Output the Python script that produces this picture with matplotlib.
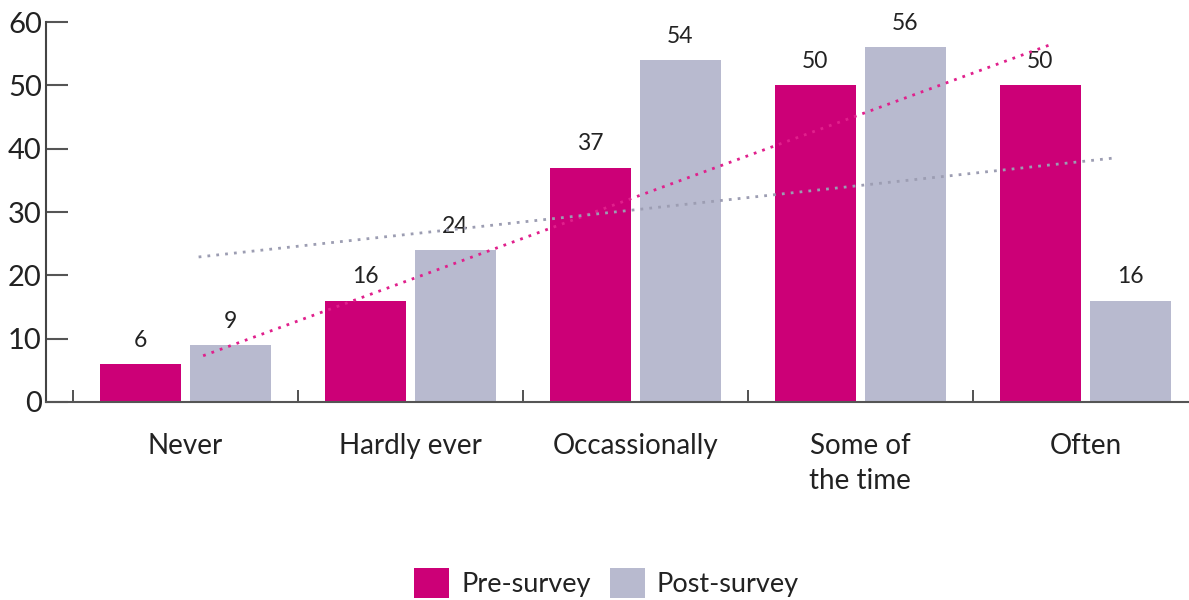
import numpy as np
import matplotlib
matplotlib.use("Agg")
import matplotlib.pyplot as plt
from matplotlib.patches import Patch

plt.rcParams['font.family'] = ['Lato', 'DejaVu Sans']

categories = ["Never", "Hardly ever", "Occassionally", "Some of\nthe time", "Often"]
pre_survey = [6, 16, 37, 50, 50]
post_survey = [9, 24, 54, 56, 16]

# dotted trend lines: (x start, x end) in category units and (value start, value end)
pre_trend_x = [0.08, 3.85]
pre_trend_y = [7.3, 56.5]
post_trend_x = [0.06, 4.12]
post_trend_y = [22.9, 38.5]

yticks = [0, 10, 20, 30, 40, 50, 60]

PINK = "#CC0077"
LAVENDER = "#B8BACF"
TEXT = "#222222"

fig = plt.figure(figsize=(11.89, 6.0), dpi=100)
ax = fig.add_axes([46 / 1189, 0.33, 1 - 46 / 1189, 0.9633 - 0.33])

x = np.arange(len(categories))
w = 0.36
off = 0.2
ax.bar(x - off, pre_survey, width=w, color=PINK, zorder=2)
ax.bar(x + off, post_survey, width=w, color=LAVENDER, zorder=2)

for xi, v in zip(x - off, pre_survey):
    ax.text(xi, v + 2.1, str(v), ha="center", va="bottom", fontsize=16.5, color=TEXT)
for xi, v in zip(x + off, post_survey):
    ax.text(xi, v + 2.1, str(v), ha="center", va="bottom", fontsize=16.5, color=TEXT)

ax.plot(pre_trend_x, pre_trend_y, linestyle=(0, (1, 2.2)), color="#E0208C",
        linewidth=2.0, zorder=3)
ax.plot(post_trend_x, post_trend_y, linestyle=(0, (1, 2.2)), color="#9C9DB2",
        linewidth=2.0, zorder=3)

ax.set_ylim(0, 60)
ax.set_xlim(-0.618, 4.46)
ax.set_yticks(yticks)
ax.set_yticklabels([str(t) for t in yticks])

ax.set_xticks(np.arange(-0.5, len(categories) - 0.5, 1.0))
ax.set_xticklabels([])
ax.set_xticks(x, minor=True)
ax.set_xticklabels(categories, minor=True, fontsize=20, color=TEXT, linespacing=1.45, va="top")

ax.tick_params(axis="y", direction="in", length=16, width=1.5, color="#555555",
               labelsize=21, labelcolor=TEXT, pad=3)
ax.tick_params(axis="x", which="major", direction="in", length=9, width=1.2, color="#333333")
ax.tick_params(axis="x", which="minor", length=0, pad=22)

for s in ["top", "right"]:
    ax.spines[s].set_visible(False)
ax.spines["left"].set_color("#444444")
ax.spines["left"].set_linewidth(1.5)
ax.spines["bottom"].set_color("#555555")
ax.spines["bottom"].set_linewidth(1.5)
ax.spines["left"].set_bounds(0, 60)

handles = [Patch(facecolor=PINK, label="Pre-survey"),
           Patch(facecolor=LAVENDER, label="Post-survey")]
fig.legend(handles=handles, loc="center", bbox_to_anchor=(0.51, 1 - 583 / 600),
           ncol=2, frameon=False, fontsize=19.5, handlelength=1.3, handleheight=1.3,
           handletextpad=0.45, columnspacing=0.7, labelcolor=TEXT)

fig.savefig("out.png", dpi=100)
